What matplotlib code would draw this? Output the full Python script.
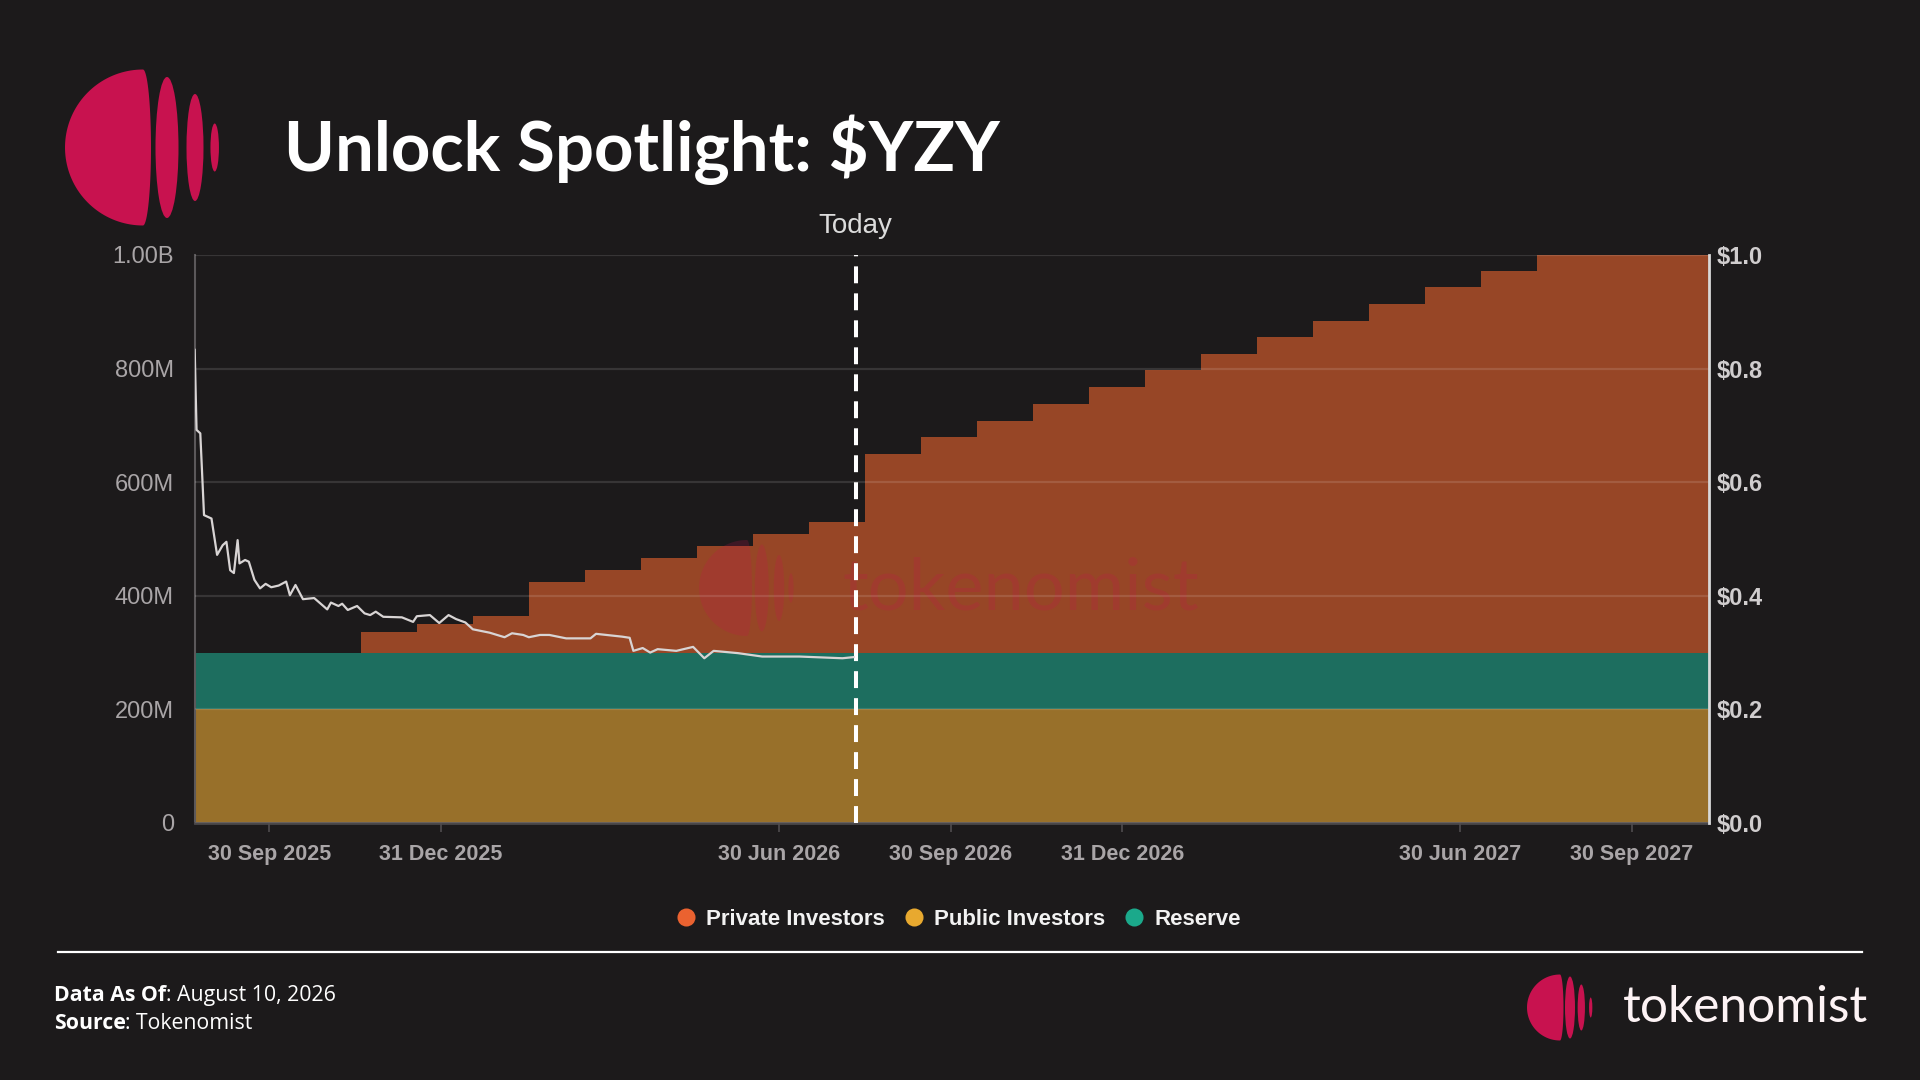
import matplotlib.pyplot as plt
import numpy as np
import pandas as pd
from matplotlib.lines import Line2D
from matplotlib.patches import Ellipse, Polygon

plt.rcParams['font.family'] = ['Liberation Sans', 'DejaVu Sans']

BG = '#1c1a1b'
PINK = '#c8124f'

### data (supply in millions of tokens, price in USD)
public_investors = 200.0
reserve = 100.0
step_dates = ['2025-08-21', '2025-11-18', '2025-12-18', '2026-01-17', '2026-02-16',
              '2026-03-18', '2026-04-17', '2026-05-17', '2026-06-16', '2026-07-16',
              '2026-08-15', '2026-09-14', '2026-10-14', '2026-11-13', '2026-12-13',
              '2027-01-12', '2027-02-11', '2027-03-13', '2027-04-12', '2027-05-12',
              '2027-06-11', '2027-07-11', '2027-08-10']
private_investors = [0, 37, 50, 64, 125, 146, 166, 188, 208, 230,
                     350, 379, 408, 438, 467, 497, 526, 555, 584, 613,
                     643, 672, 700]
x_start = '2025-08-21'
x_end = '2027-11-10'
today = '2026-08-10'

price_dates = ['2025-08-21', '2025-08-22', '2025-08-24', '2025-08-26', '2025-08-30',
               '2025-09-02', '2025-09-05', '2025-09-07', '2025-09-09', '2025-09-11',
               '2025-09-13', '2025-09-14', '2025-09-17', '2025-09-19', '2025-09-22',
               '2025-09-25', '2025-09-28', '2025-10-01', '2025-10-05', '2025-10-09',
               '2025-10-11', '2025-10-14', '2025-10-18', '2025-10-24', '2025-10-31',
               '2025-11-02', '2025-11-06', '2025-11-08', '2025-11-11', '2025-11-16',
               '2025-11-20', '2025-11-23', '2025-11-26', '2025-11-30', '2025-12-10',
               '2025-12-16', '2025-12-18', '2025-12-25', '2025-12-30', '2026-01-04',
               '2026-01-08', '2026-01-13', '2026-01-17', '2026-01-26', '2026-02-03',
               '2026-02-07', '2026-02-13', '2026-02-16', '2026-02-22', '2026-02-27',
               '2026-03-08', '2026-03-21', '2026-03-24', '2026-04-07', '2026-04-11',
               '2026-04-13', '2026-04-18', '2026-04-22', '2026-04-26', '2026-05-06',
               '2026-05-15', '2026-05-21', '2026-05-26', '2026-06-08', '2026-06-21',
               '2026-07-11', '2026-08-03', '2026-08-09']
price_usd = [0.833, 0.692, 0.686, 0.542, 0.536,
             0.472, 0.489, 0.495, 0.445, 0.440,
             0.498, 0.457, 0.463, 0.460, 0.428,
             0.413, 0.421, 0.415, 0.418, 0.425,
             0.401, 0.419, 0.394, 0.396, 0.376,
             0.388, 0.382, 0.386, 0.375, 0.382,
             0.369, 0.366, 0.372, 0.363, 0.362,
             0.354, 0.364, 0.366, 0.352, 0.366,
             0.359, 0.353, 0.341, 0.335, 0.327,
             0.334, 0.331, 0.327, 0.331, 0.331,
             0.325, 0.325, 0.333, 0.328, 0.326,
             0.303, 0.308, 0.300, 0.306, 0.303,
             0.310, 0.290, 0.303, 0.299, 0.293,
             0.293, 0.290, 0.292]

tick_dates = ['2025-09-30', '2025-12-31', '2026-06-30', '2026-09-30',
              '2026-12-31', '2027-06-30', '2027-09-30']
tick_labels = ['30 Sep 2025', '31 Dec 2025', '30 Jun 2026', '30 Sep 2026',
               '31 Dec 2026', '30 Jun 2027', '30 Sep 2027']
supply_ticks = [0, 200, 400, 600, 800, 1000]
supply_labels = ['0', '200M', '400M', '600M', '800M', '1.00B']
price_ticks = [0.0, 0.2, 0.4, 0.6, 0.8, 1.0]

series_names = ['Private Investors', 'Public Investors', 'Reserve']
legend_colors = ['#ea6230', '#e8a92f', '#1ba98b']
fill_colors = {'private': '#974626', 'public': '#98702a', 'reserve': '#1d6e5f'}


def draw_logo(axis, cx, cy, r, bulge, ellipses, alpha=1.0, transform=None, zorder=2):
    # big clipped disc + thinner lenses, in pixel coords (y down)
    t = np.linspace(np.pi / 2, 3 * np.pi / 2, 80)
    left = np.column_stack([cx + r * np.cos(t), cy - r * np.sin(t)])
    s = np.linspace(np.pi / 2, -np.pi / 2, 40)
    right = np.column_stack([cx + bulge * np.cos(s), cy + r * np.sin(s)])
    kw = dict(facecolor=PINK, edgecolor='none', alpha=alpha, zorder=zorder, clip_on=False)
    if transform is not None:
        kw['transform'] = transform
    axis.add_patch(Polygon(np.vstack([left, right]), closed=True, **kw))
    for ex, w, h in ellipses:
        axis.add_patch(Ellipse((ex, cy), w, h, **kw))


fig = plt.figure(figsize=(19.2, 10.8), dpi=100, facecolor=BG)

# overlay in pixel coordinates for title, logos and footer
ov = fig.add_axes([0, 0, 1, 1])
ov.set_xlim(0, 1920)
ov.set_ylim(1080, 0)
ov.axis('off')

ax = fig.add_axes([0.1014, 0.2380, 0.7885, 0.5259])
ax.set_facecolor('none')

x = pd.to_datetime(step_dates + [x_end])
priv = np.array(private_investors + [private_investors[-1]], dtype=float)
pub = np.full(len(x), public_investors)
res = np.full(len(x), reserve)

ax.fill_between(x, 0, pub, step='post', color=fill_colors['public'], lw=0, zorder=1)
ax.fill_between(x, pub, pub + res, step='post', color=fill_colors['reserve'], lw=0, zorder=1)
ax.fill_between(x, pub + res, pub + res + priv, step='post', color=fill_colors['private'], lw=0, zorder=1)

ax.set_xlim(pd.Timestamp(x_start), pd.Timestamp(x_end))
ax.set_ylim(0, 1000)
ax.set_yticks(supply_ticks)
ax.set_yticklabels(supply_labels)
ax.set_xticks(pd.to_datetime(tick_dates))
ax.set_xticklabels(tick_labels, fontweight='bold')
ax.set_axisbelow(False)
ax.grid(axis='y', color='white', alpha=0.12, lw=1.6)
ax.grid(axis='x', visible=False)

ax.spines['top'].set_visible(False)
ax.spines['right'].set_visible(False)
ax.spines['left'].set_color('#5b585a')
ax.spines['left'].set_linewidth(1.5)
ax.spines['bottom'].set_color('#4a4749')
ax.spines['bottom'].set_linewidth(2)
ax.tick_params(axis='y', length=0, pad=15, labelsize=17, labelcolor='#a9a5a7')
ax.tick_params(axis='x', length=6.5, width=1.2, color='#4f4c4e', pad=9,
               labelsize=15.5, labelcolor='#a9a5a7')

# watermark
ax.text(842, 610, 'tokenomist', transform=ov.transData, fontsize=52,
        family=['Lato', 'DejaVu Sans'], color=PINK, alpha=0.2, va='baseline',
        zorder=2, clip_on=False)
draw_logo(ax, 747, 588, 48, 5, [(761.8, 14, 87), (779, 10.5, 66), (791, 5.2, 29.5)],
          alpha=0.2, transform=ov.transData, zorder=2)

# today marker
today_ts = pd.Timestamp(today)
ax.axvline(today_ts, color='white', lw=2.9, dashes=(4.2, 2.5), zorder=4)
ax.text(today_ts, 1.051, 'Today', transform=ax.get_xaxis_transform(), ha='center',
        va='center', fontsize=20, color='#dcdcdc')

# price line on the right axis
ax2 = ax.twinx()
ax2.plot(pd.to_datetime(price_dates), price_usd, color='#d8d4d4', lw=1.6, zorder=3)
ax2.set_ylim(0, 1)
ax2.set_yticks(price_ticks)
ax2.set_yticklabels([f'${v:.1f}' for v in price_ticks], fontweight='bold')
ax2.tick_params(axis='y', length=0, pad=6, labelsize=17, labelcolor='#d0cdce')
for side in ['top', 'left', 'bottom']:
    ax2.spines[side].set_visible(False)
ax2.spines['right'].set_color('#d8d8d8')
ax2.spines['right'].set_linewidth(2)

# legend
handles = [Line2D([], [], ls='none', marker='o', markersize=13, markerfacecolor=c,
                  markeredgecolor='none') for c in legend_colors]
fig.legend(handles, series_names, loc='center', bbox_to_anchor=(0.4995, 0.149), ncol=3,
           frameon=False, prop={'size': 16, 'weight': 'bold'}, labelcolor='#f2f2f2',
           handlelength=0.8, handletextpad=0.5, columnspacing=0.9)

# header
draw_logo(ov, 143, 147.5, 78, 8, [(167, 23, 141), (195, 17, 107), (214.7, 8.5, 48)])
ov.text(284, 171, 'Unlock Spotlight: $YZY', fontsize=49.6, fontweight='bold',
        family=['Lato', 'DejaVu Sans'], color='white', va='baseline')

# footer
ov.plot([57.6, 1862], [952, 952], color='white', lw=1.6)
t1 = ov.text(53.6, 1001, 'Data As Of', fontsize=15.3, fontweight='bold',
             family=['Open Sans', 'DejaVu Sans'], color='white', va='baseline')
ov.annotate(': August 10, 2026', xy=(1, 0), xycoords=t1, va='bottom', ha='left',
            fontsize=15.3, family=['Open Sans', 'DejaVu Sans'], color='white')
t2 = ov.text(53.6, 1029.3, 'Source', fontsize=15.3, fontweight='bold',
             family=['Open Sans', 'DejaVu Sans'], color='white', va='baseline')
ov.annotate(': Tokenomist', xy=(1, 0), xycoords=t2, va='bottom', ha='left',
            fontsize=15.3, family=['Open Sans', 'DejaVu Sans'], color='white')
draw_logo(ov, 1560, 1007.5, 33, 3.5, [(1570, 10, 62), (1581.3, 7.3, 46), (1590.7, 3.3, 20)])
ov.text(1622.7, 1021.7, 'tokenomist', fontsize=35.7, family=['Lato', 'DejaVu Sans'],
        color='#fdf3f5', va='baseline')

fig.savefig('out.png', dpi=100, facecolor=BG)
